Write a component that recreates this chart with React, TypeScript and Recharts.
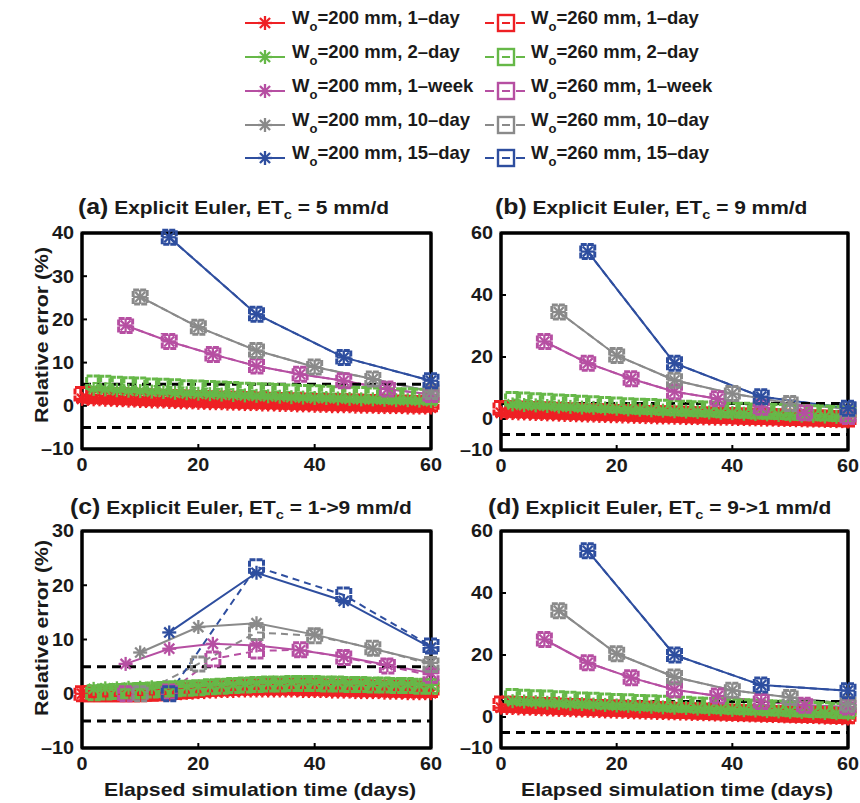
import React from 'react';
import { LineChart, Line, XAxis, YAxis, ReferenceArea } from 'recharts';

const FONT = '"Liberation Sans", Arial, Helvetica, sans-serif';

// ---------- x positions (elapsed days) ----------
const X_1DAY = [0,1,2,3,4,5,6,7,8,9,10,11,12,13,14,15,16,17,18,19,20,21,22,23,24,25,26,27,28,29,30,31,32,33,34,35,36,37,38,39,40,41,42,43,44,45,46,47,48,49,50,51,52,53,54,55,56,57,58,59,60];
const X_2DAY = [2,4,6,8,10,12,14,16,18,20,22,24,26,28,30,32,34,36,38,40,42,44,46,48,50,52,54,56,58,60];
const X_WEEK = [7.5, 15, 22.5, 30, 37.5, 45, 52.5, 60];
const X_10DAY = [10, 20, 30, 40, 50, 60];
const X_15DAY = [15, 30, 45, 60];
const X_LIMITS = [0, 60];
const X_TICKS = [0, 20, 40, 60];
const TOL_UPPER = [5, 5];
const TOL_LOWER = [-5, -5];

// ---------- labels / colours ----------
const STEP_LABELS = ['1–day', '2–day', '1–week', '10–day', '15–day'];
const STEP_COLORS = ['#EE2024', '#66B848', '#B64FA2', '#8A8A8A', '#2E4E9F'];
const W0_LABELS = ['200', '260'];
const PANEL_LETTERS = ['(a)', '(b)', '(c)', '(d)'];
const ET_LABELS = ['5', '9', '1->9', '9->1'];
const Y_TITLE = 'Relative error (%)';
const X_TITLE = 'Elapsed simulation time (days)';
const Y_TICKS_A = [-10, 0, 10, 20, 30, 40];
const Y_TICKS_B = [-10, 0, 20, 40, 60];
const Y_TICKS_C = [-10, 0, 10, 20, 30];
const Y_TICKS_D = [-10, 0, 20, 40, 60];

// ---------- panel (a) ET = 5 mm/d ----------
const A_200_1DAY = [1.6,1.6,1.5,1.5,1.4,1.4,1.3,1.3,1.2,1.2,1.1,1.1,1.0,1.0,1.0,0.9,0.9,0.8,0.8,0.8,0.7,0.7,0.6,0.6,0.6,0.5,0.5,0.5,0.4,0.4,0.4,0.3,0.3,0.3,0.2,0.2,0.2,0.1,0.1,0.1,0.0,0.0,0.0,-0.1,-0.1,-0.1,-0.1,-0.2,-0.2,-0.2,-0.2,-0.3,-0.3,-0.3,-0.3,-0.3,-0.4,-0.4,-0.4,-0.4,-0.4];
const A_260_1DAY = [2.6,2.6,2.5,2.5,2.4,2.4,2.3,2.3,2.2,2.2,2.1,2.1,2.0,2.0,1.9,1.9,1.9,1.8,1.8,1.7,1.7,1.7,1.6,1.6,1.5,1.5,1.5,1.4,1.4,1.4,1.3,1.3,1.3,1.2,1.2,1.2,1.1,1.1,1.1,1.0,1.0,1.0,0.9,0.9,0.9,0.9,0.8,0.8,0.8,0.7,0.7,0.7,0.7,0.6,0.6,0.6,0.6,0.5,0.5,0.5,0.5];
const A_200_2DAY = [3.9,3.8,3.6,3.5,3.4,3.3,3.2,3.0,2.9,2.8,2.7,2.6,2.5,2.4,2.3,2.2,2.1,2.0,1.9,1.8,1.8,1.7,1.6,1.5,1.5,1.4,1.3,1.3,1.2,1.1];
const A_260_2DAY = [5.3,5.2,5.0,4.9,4.8,4.6,4.5,4.4,4.2,4.1,4.0,3.9,3.8,3.6,3.5,3.4,3.3,3.2,3.1,3.0,2.9,2.8,2.7,2.6,2.5,2.4,2.3,2.3,2.2,2.1];
const A_WEEK = [18.6, 14.9, 11.9, 9.2, 7.3, 5.8, 3.9, 2.6];
const A_10DAY = [25.2, 18.2, 12.8, 9.0, 6.2, 3.3];
const A_15DAY = [39.0, 21.2, 11.2, 5.8];

// ---------- panel (b) ET = 9 mm/d ----------
const B_200_1DAY = [2.0,2.0,1.9,1.8,1.8,1.7,1.6,1.6,1.5,1.5,1.4,1.3,1.3,1.2,1.2,1.1,1.1,1.0,1.0,0.9,0.9,0.8,0.8,0.7,0.7,0.6,0.6,0.5,0.5,0.5,0.4,0.4,0.3,0.3,0.3,0.2,0.2,0.1,0.1,0.1,0.0,0.0,0.0,-0.1,-0.1,-0.2,-0.2,-0.2,-0.3,-0.3,-0.3,-0.4,-0.4,-0.5,-0.5,-0.5,-0.6,-0.6,-0.7,-0.7,-0.8];
const B_260_1DAY = [3.4,3.3,3.3,3.2,3.1,3.1,3.0,2.9,2.9,2.8,2.7,2.7,2.6,2.5,2.5,2.4,2.4,2.3,2.2,2.2,2.1,2.1,2.0,1.9,1.9,1.8,1.8,1.7,1.7,1.6,1.6,1.5,1.5,1.4,1.4,1.3,1.3,1.2,1.2,1.1,1.1,1.0,1.0,0.9,0.9,0.8,0.8,0.7,0.7,0.6,0.6,0.5,0.5,0.4,0.4,0.3,0.3,0.2,0.2,0.1,0.0];
const B_200_2DAY = [4.7,4.5,4.4,4.2,4.0,3.9,3.7,3.6,3.4,3.3,3.1,3.0,2.8,2.7,2.5,2.4,2.3,2.1,2.0,1.9,1.7,1.6,1.5,1.3,1.2,1.1,1.0,0.8,0.7,0.6];
const B_260_2DAY = [6.3,6.1,5.9,5.7,5.5,5.3,5.1,4.9,4.7,4.5,4.3,4.1,4.0,3.8,3.6,3.5,3.3,3.2,3.0,2.9,2.8,2.6,2.5,2.4,2.2,2.1,2.0,1.9,1.8,1.7];
const B_WEEK = [25.0, 18.0, 13.0, 8.8, 6.5, 3.8, 2.0, 0.8];
const B_10DAY = [34.5, 20.5, 12.5, 8.2, 5.0, 3.2];
const B_15DAY = [54.0, 18.0, 7.2, 3.5];

// ---------- panel (c) ET = 1->9 mm/d ----------
const C_200_1DAY = [0.0,0.0,0.0,0.0,0.0,0.0,0.0,0.0,0.0,0.0,0.0,0.0,0.0,0.0,0.0,0.1,0.1,0.1,0.2,0.2,0.3,0.3,0.4,0.4,0.5,0.5,0.5,0.6,0.6,0.6,0.6,0.6,0.6,0.6,0.6,0.6,0.6,0.6,0.5,0.5,0.5,0.5,0.5,0.4,0.4,0.4,0.4,0.3,0.3,0.3,0.3,0.3,0.2,0.2,0.2,0.2,0.1,0.1,0.1,0.1,0.1];
const C_260_1DAY = [0.0,0.0,0.0,0.0,0.0,0.0,0.0,0.0,0.0,0.0,0.0,0.1,0.1,0.2,0.2,0.3,0.4,0.5,0.6,0.7,0.8,0.9,1.0,1.1,1.1,1.2,1.2,1.3,1.3,1.3,1.4,1.4,1.4,1.4,1.4,1.4,1.4,1.3,1.3,1.3,1.3,1.3,1.2,1.2,1.2,1.2,1.1,1.1,1.1,1.1,1.0,1.0,1.0,1.0,0.9,0.9,0.9,0.9,0.9,0.8,0.8];
const C_200_2DAY = [0.9,1.0,1.0,1.1,1.1,1.2,1.2,1.3,1.3,1.4,1.5,1.6,1.7,1.8,1.9,2.0,2.0,2.1,2.1,2.1,2.0,2.0,1.9,1.9,1.8,1.8,1.7,1.7,1.6,1.6];
const C_260_2DAY = [0.2,0.3,0.4,0.5,0.6,0.7,0.8,0.9,1.0,1.1,1.3,1.4,1.5,1.6,1.7,1.8,1.8,1.9,1.9,1.9,1.8,1.8,1.7,1.7,1.6,1.6,1.5,1.5,1.4,1.4];
const C_200_WEEK = [5.5, 8.3, 9.2, 8.9, 8.0, 6.8, 5.3, 3.8];
const C_260_WEEK = [0.0, 0.3, 6.4, 7.9, 8.1, 6.7, 5.1, 3.4];
const C_200_10DAY = [7.6, 12.3, 13.0, 10.9, 8.3, 5.7];
const C_260_10DAY = [0.0, 5.5, 11.3, 10.7, 8.4, 5.4];
const C_200_15DAY = [11.3, 22.3, 17.1, 8.5];
const C_260_15DAY = [0.0, 23.4, 18.2, 8.8];

// ---------- panel (d) ET = 9->1 mm/d ----------
const D_200_1DAY = [3.0,2.9,2.9,2.8,2.7,2.7,2.6,2.5,2.5,2.4,2.3,2.3,2.2,2.1,2.1,2.0,2.0,1.9,1.8,1.8,1.7,1.7,1.6,1.5,1.5,1.4,1.4,1.3,1.3,1.2,1.2,1.1,1.1,1.0,1.0,0.9,0.9,0.8,0.8,0.7,0.7,0.6,0.6,0.5,0.5,0.4,0.4,0.3,0.3,0.2,0.2,0.1,0.1,0.0,0.0,-0.1,-0.2,-0.2,-0.3,-0.4,-0.5];
const D_260_1DAY = [4.2,4.1,4.1,4.0,3.9,3.9,3.8,3.7,3.7,3.6,3.5,3.5,3.4,3.3,3.3,3.2,3.1,3.1,3.0,2.9,2.9,2.8,2.7,2.7,2.6,2.5,2.5,2.4,2.3,2.3,2.2,2.1,2.1,2.0,1.9,1.9,1.8,1.7,1.7,1.6,1.5,1.5,1.4,1.4,1.3,1.3,1.2,1.1,1.1,1.0,1.0,0.9,0.9,0.8,0.8,0.7,0.7,0.6,0.5,0.5,0.4];
const D_200_2DAY = [5.1,5.0,4.8,4.6,4.5,4.3,4.2,4.0,3.9,3.7,3.6,3.4,3.3,3.1,3.0,2.9,2.7,2.6,2.5,2.3,2.2,2.1,1.9,1.8,1.7,1.6,1.4,1.3,1.2,1.1];
const D_260_2DAY = [6.6,6.4,6.2,6.1,5.9,5.7,5.5,5.4,5.2,5.0,4.9,4.7,4.6,4.4,4.2,4.1,3.9,3.8,3.6,3.5,3.3,3.2,3.0,2.9,2.7,2.6,2.4,2.3,2.1,2.0];
const D_WEEK = [25.0, 17.5, 12.7, 8.8, 6.8, 5.0, 3.8, 3.2];
const D_10DAY = [34.3, 20.4, 12.9, 8.6, 6.3, 4.2];
const D_15DAY = [53.6, 20.0, 10.3, 8.5];

const X_BY_STEP = [X_1DAY, X_2DAY, X_WEEK, X_10DAY, X_15DAY];

const zip = (xs: number[], ys: number[]) => xs.map((x, i) => ({ x, y: ys[i] }));

const PANELS = [
  {
    letter: PANEL_LETTERS[0], et: ET_LABELS[0], yDomain: [-10, 40], yTicks: Y_TICKS_A,
    w200: [A_200_1DAY, A_200_2DAY, A_WEEK, A_10DAY, A_15DAY],
    w260: [A_260_1DAY, A_260_2DAY, A_WEEK, A_10DAY, A_15DAY],
    layout: { left: 82, top: 233, w: 349, h: 216, titleX: 78, titleY: 208 },
  },
  {
    letter: PANEL_LETTERS[1], et: ET_LABELS[1], yDomain: [-10, 60], yTicks: Y_TICKS_B,
    w200: [B_200_1DAY, B_200_2DAY, B_WEEK, B_10DAY, B_15DAY],
    w260: [B_260_1DAY, B_260_2DAY, B_WEEK, B_10DAY, B_15DAY],
    layout: { left: 501, top: 233, w: 347, h: 217, titleX: 495, titleY: 208 },
  },
  {
    letter: PANEL_LETTERS[2], et: ET_LABELS[2], yDomain: [-10, 30], yTicks: Y_TICKS_C,
    w200: [C_200_1DAY, C_200_2DAY, C_200_WEEK, C_200_10DAY, C_200_15DAY],
    w260: [C_260_1DAY, C_260_2DAY, C_260_WEEK, C_260_10DAY, C_260_15DAY],
    layout: { left: 82, top: 531, w: 349, h: 217, titleX: 70, titleY: 508 },
  },
  {
    letter: PANEL_LETTERS[3], et: ET_LABELS[3], yDomain: [-10, 60], yTicks: Y_TICKS_D,
    w200: [D_200_1DAY, D_200_2DAY, D_WEEK, D_10DAY, D_15DAY],
    w260: [D_260_1DAY, D_260_2DAY, D_WEEK, D_10DAY, D_15DAY],
    layout: { left: 501, top: 531, w: 347, h: 217, titleX: 488, titleY: 508 },
  },
];

const Asterisk = ({ cx, cy, color, r = 7, sw = 2.3 }: any) => {
  const d = r * 0.72;
  return (
    <g stroke={color} strokeWidth={sw} strokeLinecap="butt">
      <line x1={cx - r} y1={cy} x2={cx + r} y2={cy} />
      <line x1={cx} y1={cy - r} x2={cx} y2={cy + r} />
      <line x1={cx - d} y1={cy - d} x2={cx + d} y2={cy + d} />
      <line x1={cx - d} y1={cy + d} x2={cx + d} y2={cy - d} />
    </g>
  );
};

const asteriskDot = (color: string) => (p: any) => {
  const { cx, cy, index } = p;
  if (cx == null || cy == null) return <g key={`a${index}`} />;
  return (
    <g key={`a${index}`}>
      <Asterisk cx={cx} cy={cy} color={color} />
    </g>
  );
};

const squareDot = (color: string) => (p: any) => {
  const { cx, cy, index } = p;
  if (cx == null || cy == null) return <g key={`s${index}`} />;
  const s = 14;
  return (
    <rect key={`s${index}`} x={cx - s / 2} y={cy - s / 2} width={s} height={s}
      fill="none" stroke={color} strokeWidth={3} strokeDasharray="6 1" />
  );
};

const XTick = (p: any) => {
  const { x, y, payload } = p;
  return (
    <text transform={`translate(${x} ${y}) scale(1.1 1)`} x={0} y={0} dy="0.71em" textAnchor="middle"
      fontFamily={FONT} fontWeight="bold" fontSize={18} fill="#1a1a1a">
      {String(payload.value)}
    </text>
  );
};

const YTick = (p: any) => {
  const { x, y, payload } = p;
  const v = payload.value;
  const label = v < 0 ? `–${Math.abs(v)}` : String(v);
  return (
    <text transform={`translate(${x} ${y}) scale(1.1 1)`} x={0} y={0} dy="0.36em" textAnchor="end"
      fontFamily={FONT} fontWeight="bold" fontSize={18} fill="#1a1a1a">
      {label}
    </text>
  );
};

function Panel({ panel }: any) {
  const { layout } = panel;
  const ml = 80, mt = 19, mr = 11, xh = 40;
  const W = layout.w + ml + mr + 1;
  const H = layout.h + mt + 1 + xh;
  const [y0, y1] = panel.yDomain;
  const order = [0, 1, 2, 3, 4];
  return (
    <div style={{ position: 'absolute', left: layout.left - ml, top: layout.top - mt - 1 }}>
      <LineChart width={W} height={H} margin={{ top: mt, right: mr, bottom: 0, left: 0 }}>
        <XAxis xAxisId="b" type="number" dataKey="x" domain={[0, 60]} ticks={X_TICKS} interval={0}
          height={xh} stroke="#000" tickSize={-5} tickMargin={14} axisLine={{ stroke: '#000', strokeWidth: 3 }}
          tickLine={{ stroke: '#000', strokeWidth: 2 }} tick={(p: any) => <XTick {...p} />} />
        <XAxis xAxisId="t" orientation="top" type="number" dataKey="x" domain={[0, 60]} ticks={X_TICKS}
          interval={0} height={1} stroke="#000" tickSize={-6} axisLine={{ stroke: '#000', strokeWidth: 3 }}
          tickLine={{ stroke: '#000', strokeWidth: 2 }} tick={false} />
        <YAxis yAxisId="l" type="number" domain={panel.yDomain} ticks={panel.yTicks} interval={0}
          width={ml} stroke="#000" tickSize={-5} tickMargin={13} axisLine={{ stroke: '#000', strokeWidth: 3 }}
          tickLine={{ stroke: '#000', strokeWidth: 2 }} tick={(p: any) => <YTick {...p} />} />
        <YAxis yAxisId="r" orientation="right" type="number" domain={panel.yDomain} ticks={panel.yTicks}
          interval={0} width={1} stroke="#000" tickSize={-6} axisLine={{ stroke: '#000', strokeWidth: 3 }}
          tickLine={{ stroke: '#000', strokeWidth: 2 }} tick={false} />
        {order.flatMap((i) => [
          <Line key={`w200-${i}`} xAxisId="b" yAxisId="l" data={zip(X_BY_STEP[i], panel.w200[i])} dataKey="y"
            stroke={STEP_COLORS[i]} strokeWidth={2} dot={asteriskDot(STEP_COLORS[i])} activeDot={false}
            isAnimationActive={false} legendType="none" />,
          <Line key={`w260-${i}`} xAxisId="b" yAxisId="l" data={zip(X_BY_STEP[i], panel.w260[i])} dataKey="y"
            stroke={STEP_COLORS[i]} strokeWidth={2} strokeDasharray="7 5" dot={squareDot(STEP_COLORS[i])}
            activeDot={false} isAnimationActive={false} legendType="none" />,
        ])}
        <Line xAxisId="b" yAxisId="l" data={zip(X_LIMITS, TOL_UPPER)} dataKey="y" stroke="#000"
          strokeWidth={3} strokeDasharray="9 6" dot={false} activeDot={false} isAnimationActive={false} legendType="none" />
        <Line xAxisId="b" yAxisId="l" data={zip(X_LIMITS, TOL_LOWER)} dataKey="y" stroke="#000"
          strokeWidth={3} strokeDasharray="9 6" dot={false} activeDot={false} isAnimationActive={false} legendType="none" />
        <ReferenceArea xAxisId="b" yAxisId="l" x1={0} x2={60} y1={y0} y2={y1} fill="none" fillOpacity={0}
          stroke="#000" strokeWidth={3} ifOverflow="visible" />
      </LineChart>
    </div>
  );
}

const textStyle: React.CSSProperties = {
  position: 'absolute', fontFamily: FONT, fontWeight: 'bold', color: '#1a1a1a', whiteSpace: 'nowrap',
};

function PanelTitle({ panel }: any) {
  const { layout } = panel;
  return (
    <div style={{ ...textStyle, left: layout.titleX, top: layout.titleY, fontSize: 18.5,
      transform: 'translateY(-50%) scale(1.13, 1)', transformOrigin: 'left center', lineHeight: '26px' }}>
      <span style={{ fontSize: 22 }}>{panel.letter}</span>
      {' Explicit Euler, ET'}
      <span style={{ fontSize: 13, position: 'relative', top: 5 }}>c</span>
      {` = ${panel.et} mm/d`}
    </div>
  );
}

function Legend() {
  const rows = [23, 57, 91, 125, 158];
  return (
    <svg width={860} height={180} style={{ position: 'absolute', left: 0, top: 0 }}>
      {STEP_LABELS.map((lab, i) => {
        const y = rows[i];
        const c = STEP_COLORS[i];
        return (
          <g key={lab}>
            <line x1={245} y1={y} x2={285} y2={y} stroke={c} strokeWidth={2} />
            <Asterisk cx={265} cy={y} color={c} />
            <text x={292} y={y + 1} fontFamily={FONT} fontWeight="bold" fontSize={18.5} fill="#1a1a1a">
              <tspan>W</tspan>
              <tspan fontSize={13} dy={7}>o</tspan>
              <tspan dy={-7}>{`=${W0_LABELS[0]} mm, ${lab}`}</tspan>
            </text>
            <line x1={485} y1={y} x2={494} y2={y} stroke={c} strokeWidth={2} />
            <line x1={516} y1={y} x2={525} y2={y} stroke={c} strokeWidth={2} />
            <rect x={498} y={y - 8} width={16} height={16} fill="none" stroke={c} strokeWidth={2.4} />
            <line x1={502} y1={y} x2={510} y2={y} stroke={c} strokeWidth={2} />
            <text x={531} y={y + 1} fontFamily={FONT} fontWeight="bold" fontSize={18.5} fill="#1a1a1a">
              <tspan>W</tspan>
              <tspan fontSize={13} dy={7}>o</tspan>
              <tspan dy={-7}>{`=${W0_LABELS[1]} mm, ${lab}`}</tspan>
            </text>
          </g>
        );
      })}
    </svg>
  );
}

export default function App() {
  return (
    <div style={{ position: 'absolute', left: 0, top: 0, width: 860, height: 803, overflow: 'hidden', background: '#fff' }}>
      <Legend />
      {PANELS.map((p) => <Panel key={p.letter} panel={p} />)}
      {PANELS.map((p) => <PanelTitle key={`t${p.letter}`} panel={p} />)}
      {[335, 628].map((cy) => (
        <div key={`yt${cy}`} style={{ ...textStyle, left: 42, top: cy, fontSize: 18.5, lineHeight: '22px',
          transform: 'translate(-50%, -50%) rotate(-90deg) scale(1.15, 1)' }}>{Y_TITLE}</div>
      ))}
      {[260, 677].map((cx) => (
        <div key={`xt${cx}`} style={{ ...textStyle, left: cx, top: 790, fontSize: 18.5, lineHeight: '22px',
          transform: 'translate(-50%, -50%) scale(1.15, 1)' }}>{X_TITLE}</div>
      ))}
    </div>
  );
}
